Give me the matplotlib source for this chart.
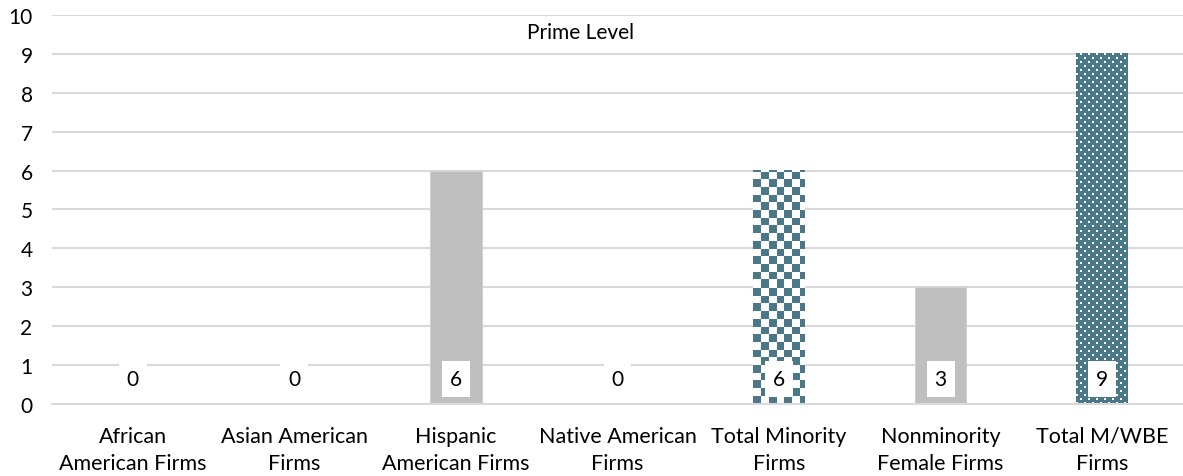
import matplotlib
matplotlib.use("Agg")
import matplotlib.pyplot as plt
import numpy as np

categories = [
    "African\nAmerican Firms",
    "Asian American\nFirms",
    "Hispanic\nAmerican Firms",
    "Native American\nFirms",
    "Total Minority\nFirms",
    "Nonminority\nFemale Firms",
    "Total M/WBE\nFirms",
]
values = [0, 0, 6, 0, 6, 3, 9]
# fill style per bar: solid gray, checker or dotted teal
styles = ["gray", "gray", "gray", "gray", "checker", "gray", "dots"]
title = "Prime Level"

GRAY = "#bfbfbf"
TEAL = "#4b7888"
GRID = "#d9d9d9"

plt.rcParams["font.family"] = ["Lato", "DejaVu Sans"]

W, H, DPI = 1183, 477, 100
fig = plt.figure(figsize=(W / DPI, H / DPI), dpi=DPI)
ax = fig.add_axes([52 / W, 1 - 405 / H, (W - 52) / W, (405 - 16) / H])

x = np.arange(len(categories))
bw = 0.32
ax.set_xlim(-0.5, len(categories) - 0.5)
ax.set_ylim(0, 10)


def pattern_image(style, wpx, hpx):
    yy, xx = np.mgrid[0:hpx, 0:wpx]
    img = np.ones((hpx, wpx, 3))
    teal = np.array(matplotlib.colors.to_rgb(TEAL))
    if style == "checker":
        cell = 7.7
        mask = ((np.floor(xx / cell) + np.floor((hpx - 1 - yy) / cell)) % 2) == 0
        img[mask] = teal
    else:
        img[:] = teal
        row = (hpx - 1 - yy) // 4
        xs = (xx + (row % 2) * 4) % 8
        ys = (hpx - 1 - yy) % 4
        mask = (xs < 2) & (ys < 2)
        img[mask] = 1.0
    return img


for xi, v, st in zip(x, values, styles):
    if v == 0:
        continue
    if st == "gray":
        ax.bar(xi, v, width=bw, color=GRAY, edgecolor="#d0d0d0", linewidth=0.8, zorder=2)
    else:
        p0 = ax.transData.transform((xi - bw / 2, 0))
        p1 = ax.transData.transform((xi + bw / 2, v))
        wpx = int(round(p1[0] - p0[0]))
        hpx = int(round(p1[1] - p0[1]))
        ax.imshow(pattern_image(st, wpx, hpx), extent=(xi - bw / 2, xi + bw / 2, 0, v),
                  aspect="auto", interpolation="nearest", zorder=2)

for xi, v in zip(x, values):
    ax.text(xi, 0.64, str(v), ha="center", va="center", fontsize=15, color="#000000",
            zorder=4, bbox=dict(boxstyle="square,pad=0.38", fc="white", ec="none"))

fig.text(581 / W, 1 - 33 / H, title, ha="center", va="center",
         fontsize=15, color="#000000")

ax.set_yticks(range(0, 11))
ax.set_xticks(x)
ax.set_xticklabels(categories, fontsize=15.5, linespacing=1.45)
ax.tick_params(axis="y", length=0, pad=14, labelsize=15)
ax.tick_params(axis="x", length=0, pad=15.5)
ax.grid(axis="y", color=GRID, linewidth=1.5, zorder=0)
ax.set_axisbelow(True)
for s in ["top", "right", "left"]:
    ax.spines[s].set_visible(False)
ax.spines["bottom"].set_color(GRID)
ax.spines["bottom"].set_linewidth(1.5)

fig.savefig("out.png", dpi=DPI)
